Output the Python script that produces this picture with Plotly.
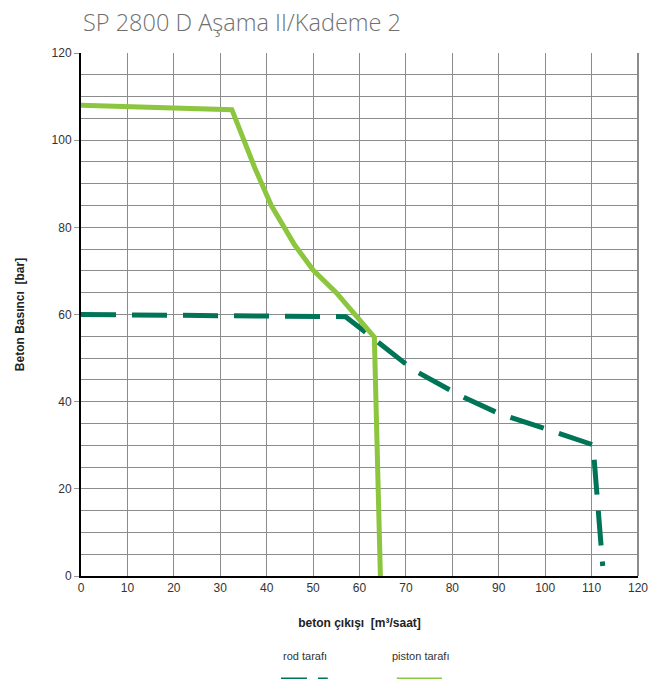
import plotly.graph_objects as go

# Data
piston_x = [0, 32.5, 37.5, 41, 46, 50, 55, 63.2, 64.5]
piston_y = [108, 107, 93.5, 85, 76, 70.2, 65, 54.8, 0]
rod_x = [0, 57, 63, 71.6, 81.5, 90, 100, 110.3, 112.4]
rod_y = [60, 59.5, 54.5, 47.3, 41.5, 37.3, 33.8, 30.1, 2.3]

x_ticks = list(range(0, 121, 10))
y_ticks = list(range(0, 121, 20))

title_text = "SP 2800 D Aşama II/Kademe 2"
x_title = "beton çıkışı  [m³/saat]"
y_title = "Beton Basıncı  [bar]"
rod_name = "rod tarafı"
piston_name = "piston tarafı"

rod_color = "#007457"
piston_color = "#8cc63f"
grid_color = "#8c8c8c"

fig = go.Figure()
fig.add_trace(go.Scatter(x=rod_x, y=rod_y, mode="lines", name=rod_name,
                         line=dict(color=rod_color, width=5, dash="35px,16px"),
                         showlegend=False))
fig.add_trace(go.Scatter(x=piston_x, y=piston_y, mode="lines", name=piston_name,
                         line=dict(color=piston_color, width=5),
                         showlegend=False))

fig.update_layout(
    width=670, height=679,
    margin=dict(l=73, r=40, t=45, b=111),
    paper_bgcolor="white", plot_bgcolor="white",
    title=dict(text=title_text, x=0.112, xanchor="left", y=0.978, yanchor="middle",
               font=dict(family="Open Sans", size=23.5, color="#707070", weight=300)),
    font=dict(family="Liberation Sans, Arial", size=12, color="#333333"),
)
fig.update_xaxes(range=[0, 120], tickvals=x_ticks, showgrid=True, gridcolor=grid_color,
                 gridwidth=1, zeroline=False, showline=True, linecolor="black", linewidth=2,
                 ticks="", tickfont=dict(size=12, color="#333333"),
                 title=dict(text="<b>" + x_title + "</b>", font=dict(size=12, color="#222222"), standoff=24))
fig.update_yaxes(range=[0, 120], tickvals=y_ticks, showgrid=True, gridcolor=grid_color,
                 gridwidth=1, zeroline=False, showline=True, linecolor="black", linewidth=2,
                 ticks="outside", ticklen=5, tickcolor="#999999",
                 tickfont=dict(size=12, color="#333333"),
                 minor=dict(dtick=5, showgrid=True, gridcolor=grid_color, gridwidth=1),
                 title=dict(text="<b>" + y_title + "</b>", font=dict(size=12, color="#222222"), standoff=24))

# right border
fig.add_shape(type="line", xref="paper", yref="paper", x0=1, x1=1, y0=0, y1=1,
              line=dict(color="#8c8c8c", width=2))

# custom legend: text above sample line
fig.add_annotation(text=rod_name, xref="paper", yref="paper", x=0.402, y=-0.168,
                   showarrow=False, font=dict(size=11, color="#333333"))
fig.add_annotation(text=piston_name, xref="paper", yref="paper", x=0.61, y=-0.168,
                   showarrow=False, font=dict(size=11, color="#333333"))
fig.add_shape(type="line", xref="paper", yref="paper", x0=0.359, x1=0.443, y0=-0.199, y1=-0.199,
              line=dict(color=rod_color, width=5, dash="26px,11px"))
fig.add_shape(type="line", xref="paper", yref="paper", x0=0.567, x1=0.648, y0=-0.199, y1=-0.199,
              line=dict(color=piston_color, width=5))

fig.write_html("out.html")
